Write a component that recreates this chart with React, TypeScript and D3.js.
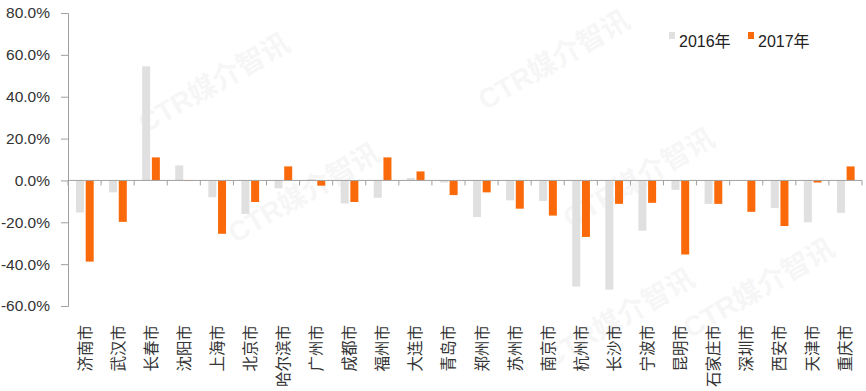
import React, { useEffect, useRef } from 'react';
import * as d3 from 'd3';

// 城市
const cities = ['济南市', '武汉市', '长春市', '沈阳市', '上海市', '北京市', '哈尔滨市', '广州市', '成都市', '福州市', '大连市', '青岛市',
  '郑州市', '苏州市', '南京市', '杭州市', '长沙市', '宁波市', '昆明市', '石家庄市', '深圳市', '西安市', '天津市', '重庆市'];

// 增长率 (%)
const values2016 = [-15.3, -5.7, 54.5, 7.2, -8.0, -16.0, -3.8, 0.6, -11.0, -8.3, 1.2, -1.0,
  -17.5, -9.5, -9.8, -50.7, -52.2, -24.0, -4.5, -11.2, 0, -13.2, -20.0, -15.5];
const values2017 = [-38.8, -19.8, 11.0, -0.3, -25.5, -10.3, 6.7, -2.5, -10.3, 11.0, 4.3, -7.0,
  -5.7, -13.5, -16.8, -27.0, -11.2, -10.7, -35.4, -11.2, -15.0, -21.8, -1.0, 6.7];

const seriesNames = ['2016年', '2017年'];
const colors = ['#e0e0e0', '#fa6a0a'];
const yTicks = [-60, -40, -20, 0, 20, 40, 60, 80];

const App = () => {
  const svgRef = useRef<SVGSVGElement>(null);

  useEffect(() => {
    const width = 866;
    const height = 391;
    const svg = d3.select(svgRef.current);
    svg.selectAll('*').remove();
    svg.attr('width', width).attr('height', height);

    const font = '"Liberation Sans", Arial, "Noto Sans CJK SC", sans-serif';

    // watermark
    const marks = [[215, 85], [305, 195], [555, 62], [640, 180], [620, 320], [760, 290]];
    svg.append('g')
      .selectAll('text')
      .data(marks)
      .enter()
      .append('text')
      .attr('transform', d => `translate(${d[0]},${d[1]}) rotate(-30)`)
      .attr('text-anchor', 'middle')
      .attr('dominant-baseline', 'middle')
      .attr('font-family', font)
      .attr('font-weight', 'bold')
      .attr('font-size', 28)
      .attr('fill', '#000')
      .attr('opacity', 0.03)
      .text('CTR媒介智讯');

    const x = d3.scaleBand()
      .domain(cities)
      .range([68, 862])
      .padding(0);

    const x1 = d3.scaleBand()
      .domain(seriesNames)
      .range([8, 25.7])
      .paddingInner(0.175);

    const y = d3.scaleLinear()
      .domain([-60, 80])
      .range([306, 13]);

    // bars
    const rows = cities.map((c, i) => ({ city: c, vals: [values2016[i], values2017[i]] }));
    const groups = svg.append('g')
      .selectAll('g')
      .data(rows)
      .enter()
      .append('g')
      .attr('transform', d => `translate(${x(d.city)},0)`);

    groups.selectAll('rect')
      .data(d => d.vals.map((v, k) => ({ v, k })))
      .enter()
      .append('rect')
      .attr('x', d => x1(seriesNames[d.k]) as number)
      .attr('y', d => y(Math.max(0, d.v)))
      .attr('width', x1.bandwidth())
      .attr('height', d => Math.abs(y(d.v) - y(0)))
      .attr('fill', d => colors[d.k]);

    // y axis
    const yAxis = svg.append('g')
      .attr('transform', 'translate(68,0)')
      .call(d3.axisLeft(y).tickValues(yTicks).tickSize(7).tickPadding(11)
        .tickFormat(d => (d as number).toFixed(1) + '%'));
    yAxis.select('.domain').attr('stroke', '#a0a0a0');
    yAxis.selectAll('.tick line').attr('stroke', '#a0a0a0');
    yAxis.selectAll('.tick text')
      .attr('font-family', font)
      .attr('font-size', 15.5)
      .attr('fill', '#333');

    // x axis at zero
    const y0 = y(0);
    svg.append('line')
      .attr('x1', 68).attr('x2', 862)
      .attr('y1', y0).attr('y2', y0)
      .attr('stroke', '#a0a0a0');
    const bounds = cities.map(c => x(c) as number).concat([x.range()[1]]);
    svg.append('g')
      .selectAll('line')
      .data(bounds)
      .enter()
      .append('line')
      .attr('x1', d => d).attr('x2', d => d)
      .attr('y1', y0).attr('y2', y0 + 5)
      .attr('stroke', '#a0a0a0');

    // category labels, vertical
    svg.append('g')
      .selectAll('text')
      .data(cities)
      .enter()
      .append('text')
      .attr('transform', d => `translate(${(x(d) as number) + x.bandwidth() / 2 + 6},325) rotate(-90)`)
      .attr('text-anchor', 'end')
      .attr('font-family', font)
      .attr('font-size', 15.5)
      .attr('fill', '#333')
      .text(d => d);

    // legend
    const legend = svg.append('g')
      .selectAll('g')
      .data(seriesNames)
      .enter()
      .append('g')
      .attr('transform', (d, i) => `translate(${669 + i * 79},0)`);
    legend.append('rect')
      .attr('x', 0).attr('y', 32)
      .attr('width', 6).attr('height', 7)
      .attr('fill', (d, i) => colors[i]);
    legend.append('text')
      .attr('x', 10).attr('y', 47)
      .attr('font-family', font)
      .attr('font-size', 16)
      .attr('fill', '#222')
      .text(d => d);
  }, []);

  return (
    <div style={{ position: 'absolute', left: 0, top: 0, background: '#fff' }}>
      <svg ref={svgRef}></svg>
    </div>
  );
};

export default App;
